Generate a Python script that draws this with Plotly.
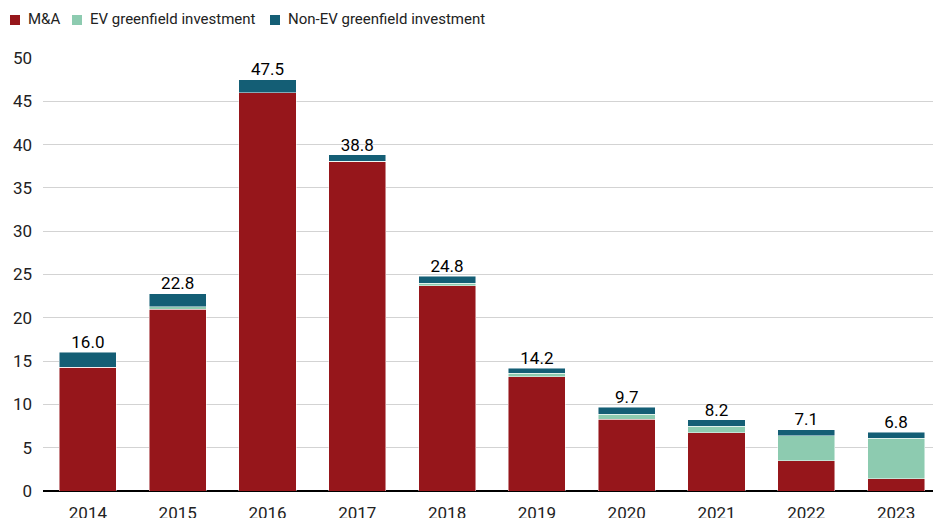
import plotly.graph_objects as go

years = ["2014", "2015", "2016", "2017", "2018", "2019", "2020", "2021", "2022", "2023"]
mna = [14.3, 21.0, 46.0, 38.0, 23.7, 13.2, 8.3, 6.7, 3.5, 1.4]
ev_green = [0.0, 0.3, 0.0, 0.1, 0.3, 0.4, 0.55, 0.8, 2.9, 4.7]
nonev_green = [1.7, 1.5, 1.5, 0.7, 0.8, 0.6, 0.85, 0.7, 0.7, 0.7]
total_labels = ["16.0", "22.8", "47.5", "38.8", "24.8", "14.2", "9.7", "8.2", "7.1", "6.8"]
y_ticks = [0, 5, 10, 15, 20, 25, 30, 35, 40, 45, 50]

series_names = ["M&A", "EV greenfield investment", "Non-EV greenfield investment"]
series_colors = ["#96161b", "#8dcbb0", "#145e75"]

totals = [a + b + c for a, b, c in zip(mna, ev_green, nonev_green)]

FONT = "Roboto"
# the page body adds an 8px offset, so the figure is 8px smaller and everything shifted
W, H = 933, 510
ML, MR, MT, MB = 35, 0, 50, 27
PW, PH = W - ML - MR, H - MT - MB

line = dict(color="rgba(255,255,255,0.6)", width=0.8)

fig = go.Figure()
for vals, name, col in zip([mna, ev_green, nonev_green], series_names, series_colors):
    fig.add_trace(go.Bar(x=years, y=vals, name=name, marker=dict(color=col, line=line),
                         showlegend=False))
fig.add_trace(go.Scatter(x=years, y=totals, mode="text", text=total_labels,
                         textposition="top center", showlegend=False, hoverinfo="skip",
                         textfont=dict(size=17, color="#000000", family=FONT)))

# custom compact legend, as in the reference
legend_sq_x = [2, 64, 262]
legend_txt_x = [18, 80, 278]
legend_cy = 12
shapes, annos = [], []
for name, col, sx, tx in zip(series_names, series_colors, legend_sq_x, legend_txt_x):
    shapes.append(dict(type="rect", xref="paper", yref="paper",
                       x0=(sx - ML) / PW, x1=(sx + 10 - ML) / PW,
                       y0=(H - MB - (legend_cy + 5)) / PH, y1=(H - MB - (legend_cy - 5)) / PH,
                       fillcolor=col, line=dict(width=0)))
    annos.append(dict(text=name, xref="paper", yref="paper",
                      x=(tx - ML) / PW, y=(H - MB - (legend_cy - 1)) / PH,
                      xanchor="left", yanchor="middle", showarrow=False,
                      font=dict(size=15, color="#222222", family=FONT)))

fig.update_layout(
    width=W, height=H,
    barmode="stack", bargap=0.365,
    plot_bgcolor="white", paper_bgcolor="white",
    font=dict(family=FONT, size=17, color="#222222"),
    margin=dict(l=ML, r=MR, t=MT, b=MB, autoexpand=False),
    showlegend=False,
    shapes=shapes, annotations=annos,
    xaxis=dict(showgrid=False, showline=False, ticks="", tickfont=dict(size=17),
               ticklabelstandoff=10),
    yaxis=dict(range=[0, 50], tickvals=y_ticks, showgrid=True, gridcolor="#d3d3d3",
               gridwidth=1, zeroline=True, zerolinecolor="#000000", zerolinewidth=1.5,
               showline=False, ticks="", tickfont=dict(size=17), ticklabelstandoff=10),
)

fig.write_html("out.html")
